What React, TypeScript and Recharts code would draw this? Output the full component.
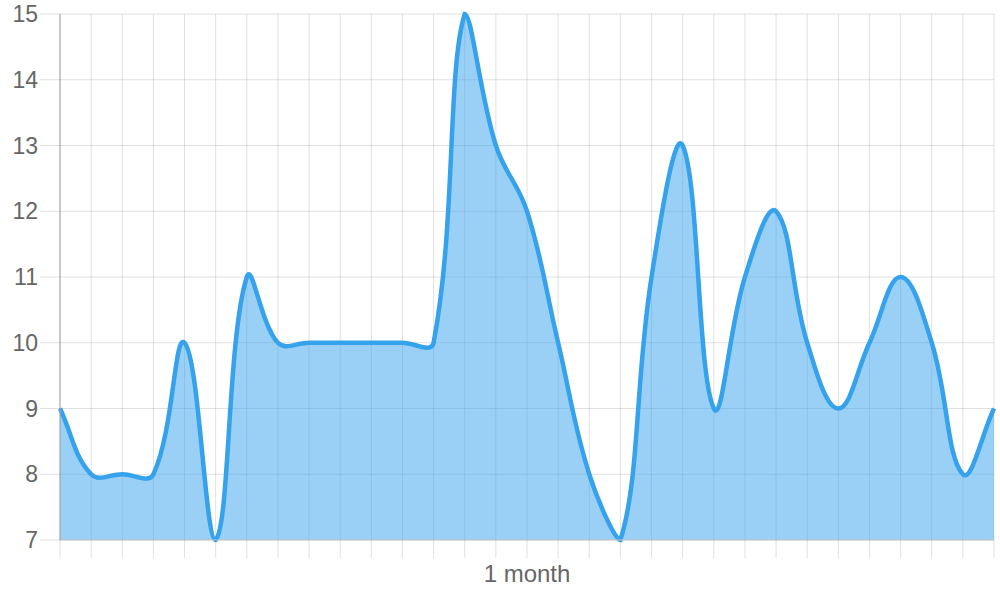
import { AreaChart, Area, XAxis, YAxis, CartesianGrid } from "recharts";

const days = [
  1, 2, 3, 4, 5, 6, 7, 8, 9, 10, 11, 12, 13, 14, 15, 16, 17, 18, 19, 20, 21,
  22, 23, 24, 25, 26, 27, 28, 29, 30, 31,
];
const values = [
  9, 8, 8, 8, 10, 7, 11, 10, 10, 10, 10, 10, 10, 15, 13, 12, 10, 8, 7, 11, 13,
  9, 11, 12, 10, 9, 10, 11, 10, 8, 9,
];
const yTicks = [7, 8, 9, 10, 11, 12, 13, 14, 15];
const labelledDay = 16;
const xTickLabel = "1 month";

const data = days.map((day, i) => ({ day, value: values[i] }));

const FONT = '"Liberation Sans", Arial, Helvetica, sans-serif';
const GRID = "rgba(0,0,0,0.12)";

// spline like Chart.js (tension 0.4), control points kept inside the y range of the line
function tensionCurve(tension: number) {
  return (ctx: any) => {
    let pts: number[][] = [];
    let line = NaN;
    const emit = () => {
      const n = pts.length;
      if (!n) return;
      const ys = pts.map((p) => p[1]);
      const lo = Math.min(...ys);
      const hi = Math.max(...ys);
      const clamp = (v: number) => Math.max(lo, Math.min(hi, v));
      const cps = pts.map((p, i) => {
        const prev = pts[Math.max(i - 1, 0)];
        const next = pts[Math.min(i + 1, n - 1)];
        const d01 = Math.hypot(p[0] - prev[0], p[1] - prev[1]);
        const d12 = Math.hypot(next[0] - p[0], next[1] - p[1]);
        const tot = d01 + d12;
        const fa = tot ? (tension * d01) / tot : 0;
        const fb = tot ? (tension * d12) / tot : 0;
        const dx = next[0] - prev[0];
        const dy = next[1] - prev[1];
        return {
          inX: p[0] - fa * dx,
          inY: clamp(p[1] - fa * dy),
          outX: p[0] + fb * dx,
          outY: clamp(p[1] + fb * dy),
        };
      });
      if (line) ctx.lineTo(pts[0][0], pts[0][1]);
      else ctx.moveTo(pts[0][0], pts[0][1]);
      for (let i = 1; i < n; i++) {
        ctx.bezierCurveTo(
          cps[i - 1].outX,
          cps[i - 1].outY,
          cps[i].inX,
          cps[i].inY,
          pts[i][0],
          pts[i][1]
        );
      }
    };
    return {
      areaStart() {
        line = 0;
      },
      areaEnd() {
        line = NaN;
      },
      lineStart() {
        pts = [];
      },
      point(x: number, y: number) {
        pts.push([+x, +y]);
      },
      lineEnd() {
        emit();
        if (line || (line !== 0 && pts.length === 1)) ctx.closePath();
        line = 1 - line;
      },
    };
  };
}

// only the middle day gets a label
const MonthTick = (props: any) => {
  const { x, y, payload } = props;
  if (payload.value !== labelledDay) return <g />;
  return (
    <text
      x={x}
      y={y}
      dy="0.71em"
      textAnchor="middle"
      fill="#666"
      fontSize={24}
      fontFamily={FONT}
    >
      {xTickLabel}
    </text>
  );
};

export default function App() {
  return (
    <div style={{ position: "absolute", left: 0, top: 0, background: "#fff" }}>
      <AreaChart
        width={1000}
        height={600}
        data={data}
        margin={{ top: 14, right: 6, left: 0, bottom: 0 }}
      >
        <CartesianGrid stroke={GRID} />
        <XAxis
          dataKey="day"
          height={60}
          interval={0}
          tickSize={18}
          tickMargin={7}
          tickLine={{ stroke: GRID }}
          axisLine={{ stroke: "#c8c8c8" }}
          tick={<MonthTick />}
        />
        <YAxis
          width={60}
          domain={[7, 15]}
          ticks={yTicks}
          interval={0}
          tickSize={20}
          tickMargin={2}
          tickLine={{ stroke: GRID }}
          axisLine={{ stroke: "#a3a3a3" }}
          tick={{ fill: "#666", fontSize: 23, fontFamily: FONT }}
        />
        <Area
          dataKey="value"
          type={tensionCurve(0.4) as any}
          stroke="#36a2eb"
          strokeWidth={4.5}
          fill="#36a2eb"
          fillOpacity={0.5}
          dot={false}
          activeDot={false}
          isAnimationActive={false}
        />
      </AreaChart>
    </div>
  );
}
